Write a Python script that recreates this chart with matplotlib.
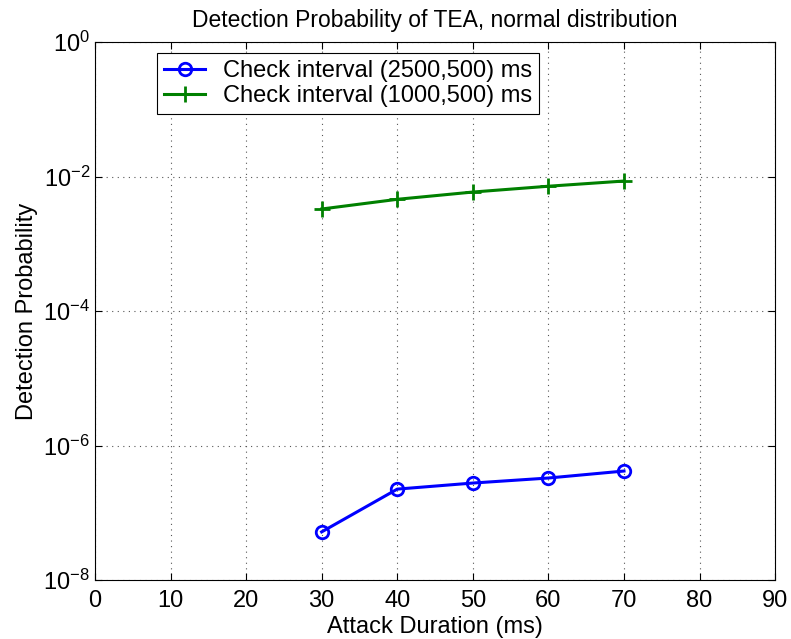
import matplotlib
matplotlib.use('Agg')
from matplotlib import pyplot as plt
from matplotlib.ticker import NullLocator

plt.rcParams['font.family'] = ['Liberation Sans', 'DejaVu Sans']

# data
durations = [30, 40, 50, 60, 70]
prob_2500 = [5.2e-8, 2.25e-7, 2.77e-7, 3.29e-7, 4.18e-7]
prob_1000 = [3.3e-3, 4.6e-3, 5.9e-3, 7.2e-3, 8.6e-3]

fig = plt.figure(figsize=(7.91, 6.39), dpi=100)
ax = fig.add_axes([0.120, 0.0923, 0.860, 0.8417])

ax.plot(durations, prob_2500, c='#0000ff', lw=2.2, marker='o', ms=9,
        mfc='none', mew=2, label='Check interval (2500,500) ms')
ax.plot(durations, prob_1000, c='#008000', lw=2.2, marker='+', ms=11,
        mew=2, label='Check interval (1000,500) ms')

ax.set_yscale('log')
ax.set_xlim(0, 90)
ax.set_ylim(1e-8, 1e0)
ax.set_xticks(range(0, 91, 10))
ax.set_yticks([1e-8, 1e-6, 1e-4, 1e-2, 1e0])
ax.yaxis.set_minor_locator(NullLocator())

ax.grid(True, which='major', ls=(0, (1, 4)), c='#555555', lw=0.8)
ax.tick_params(axis='both', which='major', direction='in', length=5,
               top=True, right=True, labelsize=17, width=0.8)
ax.tick_params(axis='x', pad=7)
for s in ax.spines.values():
    s.set_linewidth(0.8)

ax.set_title('Detection Probability of TEA, normal distribution', fontsize=16.5, pad=11)
ax.set_xlabel('Attack Duration (ms)', fontsize=17, labelpad=3)
ax.set_ylabel('Detection Probability', fontsize=17, labelpad=4)

leg = ax.legend(loc='upper left', bbox_to_anchor=(0.091, 0.98), fontsize=17,
                fancybox=False, framealpha=1, edgecolor='black',
                borderpad=0.3, labelspacing=0.12, handlelength=1.75,
                handletextpad=0.75, borderaxespad=0)
leg.get_frame().set_linewidth(0.8)

fig.savefig('out.png', dpi=100)
